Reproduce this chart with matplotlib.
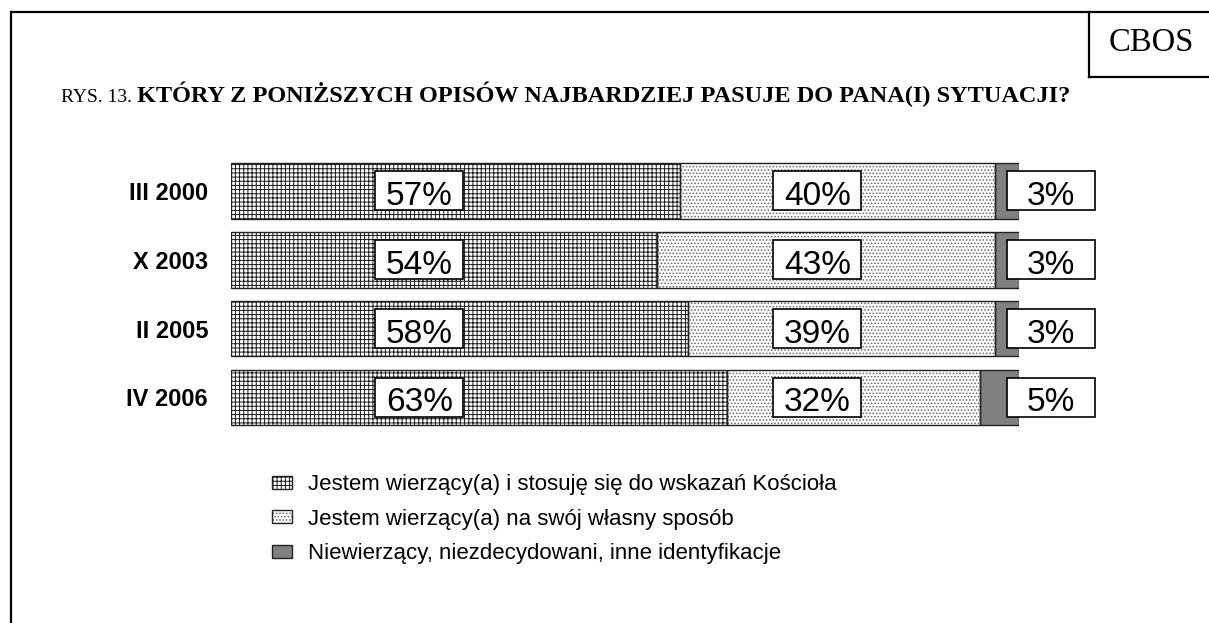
import numpy as np
import matplotlib
matplotlib.use('Agg')
import matplotlib.pyplot as plt
from matplotlib.lines import Line2D
from matplotlib.patches import Rectangle, Patch

periods = ['III 2000', 'X 2003', 'II 2005', 'IV 2006']
wierzacy_kosciol = [57, 54, 58, 63]
wierzacy_wlasny = [40, 43, 39, 32]
inni = [3, 3, 3, 5]
series_names = ['Jestem wierzący(a) i stosuję się do wskazań Kościoła',
                'Jestem wierzący(a) na swój własny sposób',
                'Niewierzący, niezdecydowani, inne identyfikacje']
label_pos = [23.9, 74.4, 104.1]   # where the value boxes sit (percent scale)

W, H = 1209, 623
plt.rcParams['hatch.linewidth'] = 0.7
fig = plt.figure(figsize=(W / 100, H / 100), dpi=100)

def fx(px):
    return px / W

def fy(py):
    return 1 - py / H

sans = 'Liberation Sans'
serif = 'Liberation Serif'

# frame
fig.add_artist(Line2D([fx(11), fx(11)], [fy(12), 0], color='black', lw=1.6, transform=fig.transFigure))
fig.add_artist(Line2D([fx(11), 1], [fy(12), fy(12)], color='black', lw=1.6, transform=fig.transFigure))
fig.add_artist(Line2D([fx(1089), fx(1089)], [fy(12), fy(77)], color='black', lw=1.6, transform=fig.transFigure))
fig.add_artist(Line2D([fx(1089), 1], [fy(77), fy(77)], color='black', lw=1.6, transform=fig.transFigure))
fig.text(fx(1151), fy(43), 'CBOS', family=serif, fontsize=23.5, ha='center', va='center')

# title, normal + bold part
t1 = fig.text(fx(61), fy(102), 'RYS. 13. ', family=serif, fontsize=14, va='baseline')
r = fig.canvas.get_renderer()
bb = t1.get_window_extent(r)
fig.text(bb.x1 / W, fy(102), 'KTÓRY Z PONIŻSZYCH OPISÓW NAJBARDZIEJ PASUJE DO PANA(I) SYTUACJI?',
         family=serif, fontsize=17.5, fontweight='bold', va='baseline')

ax = fig.add_axes([fx(231), 1 - 438.7 / H, 788 / W, 289 / H])
y = np.arange(len(periods))
a = np.array(wierzacy_kosciol)
b = np.array(wierzacy_wlasny)
c = np.array(inni)
h = 0.81

# hatch layers
ax.barh(y, a, height=h, color='white', edgecolor='#1a1a1a', hatch='++++', lw=0)
ax.barh(y, b, left=a, height=h, color='white', edgecolor='#666666', hatch='.....', lw=0)
ax.barh(y, c, left=a + b, height=h, color='#808080', lw=0)
# outlines
for vals, left in [(a, 0), (b, a), (c, a + b)]:
    ax.barh(y, vals, left=left, height=h, fill=False, edgecolor='#222222', lw=1)

ax.set_xlim(0, 100)
ax.set_ylim(3.6, -0.6)
ax.set_yticks(y)
ax.set_yticklabels(periods, family=sans, fontsize=17, fontweight='bold')
ax.tick_params(left=False, bottom=False, labelbottom=False, pad=13)
for s in ax.spines.values():
    s.set_visible(False)

# value boxes (88 x 39 px)
bw = 88 / 7.88
bh = 39 / 68.83
for i in range(len(periods)):
    for vals, xp in zip([a, b, c], label_pos):
        ax.add_patch(Rectangle((xp - bw / 2, i - bh / 2 - 0.005), bw, bh, facecolor='white',
                               edgecolor='black', lw=1.2, zorder=4, clip_on=False))
        ax.text(xp, i + 0.03, f'{vals[i]}%', family=sans, fontsize=24, ha='center',
                va='center_baseline', zorder=5, clip_on=False)

# legend
hp = [
    (Patch(facecolor='white', edgecolor='#1a1a1a', hatch='++++', lw=0),
     Patch(fill=False, edgecolor='#222222', lw=1)),
    (Patch(facecolor='white', edgecolor='#666666', hatch='.....', lw=0),
     Patch(fill=False, edgecolor='#222222', lw=1)),
    (Patch(facecolor='#808080', lw=0), Patch(fill=False, edgecolor='#222222', lw=1)),
]
fig.legend(hp, series_names, loc='upper left', bbox_to_anchor=(fx(272), fy(474)),
           frameon=False, prop={'family': sans, 'size': 16}, handlelength=0.9,
           handleheight=0.54, handletextpad=0.72, labelspacing=0.61, borderaxespad=0,
           borderpad=0)

fig.savefig('out.png', dpi=100)
